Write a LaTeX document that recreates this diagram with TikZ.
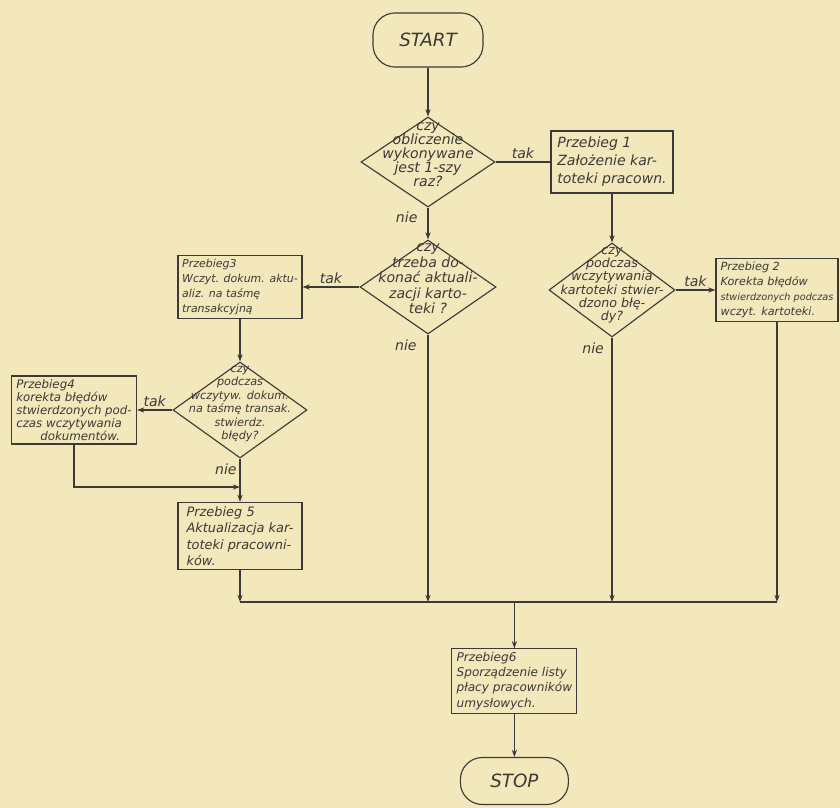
\documentclass[tikz,border=0pt]{standalone}
\usepackage{fontspec}
\setmainfont{DejaVu Sans}
\usetikzlibrary{arrows.meta,positioning,shapes.geometric}
\definecolor{paper}{HTML}{F3E7BC}
\definecolor{ink}{HTML}{3C3A36}

\begin{document}
\begin{tikzpicture}[>=Stealth,
  term/.style={draw=ink,line width=0.8pt,rounded corners=0.55cm,text=ink,
    font=\fontsize{13}{15}\selectfont\itshape},
  dec/.style={diamond,draw=ink,line width=0.8pt,inner sep=0pt},
  qt/.style={align=center,inner sep=0pt,text=ink},
  box/.style={draw=ink,line width=0.8pt,align=left,inner sep=2.5pt,text=ink},
  a/.style={-{Stealth[length=1.8mm,width=1.3mm]},line width=0.8pt,draw=ink},
  ln/.style={line width=0.8pt,draw=ink},
  lab/.style={text=ink,inner sep=2pt,font=\fontsize{10}{12}\selectfont\itshape}]
\fill[paper] (0,0) rectangle (21,-20.2);
\node[term,minimum width=2.75cm,minimum height=1.35cm] (start) at (10.70,-1.00) {START};
\node[dec,minimum width=3.35cm,minimum height=2.25cm] (d1) at (10.70,-4.05) {};
\node[qt,font=\fontsize{10}{10}\selectfont\itshape] (d1t) at ([yshift=0.18cm]d1)
  {czy\\obliczenie\\wykonywane\\jest 1-szy\\raz?};
\node[box,minimum width=3.05cm,minimum height=1.55cm,font=\fontsize{10}{12.8}\selectfont\itshape]
  (p1) at (15.30,-4.05) {Przebieg 1\\Założenie kar-\\toteki pracown.};
\node[dec,minimum width=3.4cm,minimum height=2.35cm] (d2) at (10.70,-7.175) {};
\node[qt,font=\fontsize{10}{11}\selectfont\itshape] (d2t) at ([yshift=0.2cm]d2)
  {czy\\trzeba do-\\konać aktuali-\\zacji karto-\\teki ?};
\node[box,minimum width=3.1cm,minimum height=1.575cm,font=\fontsize{7.8}{10.6}\selectfont\itshape]
  (p3) at (6.0,-7.175) {Przebieg3\\Wczyt. dokum. aktu-\\aliz. na taśmę\\transakcyjną};
\node[dec,minimum width=3.15cm,minimum height=2.35cm] (d3) at (15.30,-7.25) {};
\node[qt,font=\fontsize{9}{9.5}\selectfont\itshape] (d3t) at ([yshift=0.12cm]d3)
  {czy\\podczas\\wczytywania\\kartoteki stwier-\\dzono błę-\\dy?};
\node[box,minimum width=3.05cm,minimum height=1.55cm,font=\fontsize{8}{10.5}\selectfont\itshape]
  (p2) at (19.425,-7.25) {Przebieg 2\\Korekta błędów\\{\fontsize{6.9}{10.5}\selectfont stwierdzonych podczas}\\wczyt. kartoteki.};
\node[dec,minimum width=3.35cm,minimum height=2.4cm] (d4) at (6.0,-10.25) {};
\node[qt,font=\fontsize{8}{9.6}\selectfont\itshape] (d4t) at ([yshift=0.15cm]d4)
  {czy\\podczas\\wczytyw. dokum.\\na taśmę transak.\\stwierdz.\\błędy?};
\node[box,minimum width=3.125cm,minimum height=1.625cm,font=\fontsize{8.4}{9.2}\selectfont\itshape]
  (p4) at (1.85,-10.25) {Przebieg4\\korekta błędów\\stwierdzonych pod-\\czas wczytywania\\\hspace*{0.6cm}dokumentów.};
\node[box,minimum width=3.1cm,minimum height=1.675cm,font=\fontsize{9.2}{11.7}\selectfont\itshape]
  (p5) at (6.0,-13.40) {Przebieg 5\\Aktualizacja kar-\\toteki pracowni-\\ków.};
\node[box,minimum width=3.125cm,minimum height=1.575cm,font=\fontsize{8.6}{10.8}\selectfont\itshape]
  (p6) at (12.86,-17.025) {Przebieg6\\Sporządzenie listy\\płacy pracowników\\umysłowych.};
\node[term,minimum width=2.7cm,minimum height=1.175cm] (stop) at (12.86,-19.525) {STOP};
% connectors
\draw[a] (start) -- (d1);
\draw[ln] (d1) -- node[lab,above]{tak} (p1);
\draw[a] (d1) -- node[lab,left,pos=0.3,xshift=-0.18cm]{nie} (d2);
\draw[a] (d2) -- node[lab,above]{tak} (p3);
\draw[a] (p1) -- (d3);
\draw[a] (d3) -- node[lab,above]{tak} (p2);
\draw[a] (p3) -- (d4);
\draw[a] (d4) -- node[lab,above]{tak} (p4);
\draw[a] (d4) -- node[lab,left,pos=0.25]{nie} (p5);
\coordinate (j4) at (6.0,-12.175);
\draw[a] (p4) |- (j4);
% common line
\coordinate (mL) at (6.0,-15.05);
\coordinate (mR) at (19.425,-15.05);
\draw[ln] (mL) -- (mR);
\draw[a] (p5) -- (mL);
\draw[a] (d2) -- node[lab,left,pos=0.04,xshift=-0.2cm]{nie} (d2 |- mL);
\draw[a] (d3) -- node[lab,left,pos=0.04,xshift=-0.12cm]{nie} (d3 |- mL);
\draw[a] (p2) -- (mR);
\draw[a] (p6 |- mL) -- (p6);
\draw[a] (p6) -- (stop);
\end{tikzpicture}
\end{document}
